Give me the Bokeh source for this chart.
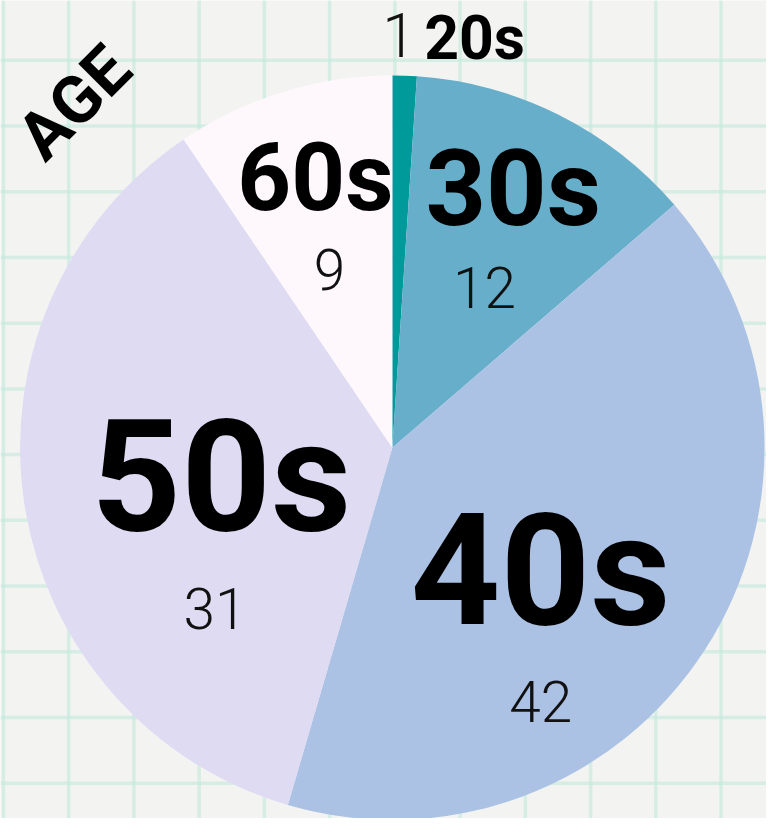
import numpy as np
from bokeh.plotting import figure
from bokeh.models import ColumnDataSource, Range1d
from bokeh.core.properties import value
from bokeh.embed import file_html
from bokeh.resources import INLINE

# ---- data ----
ages = ["20s", "30s", "40s", "50s", "60s"]
counts = [1, 12, 42, 31, 9]                 # printed values
slice_share = [1, 12, 38.8, 34.2, 9]        # slice sizes as drawn in the picture
colors = ["#009a9a", "#67aecb", "#abc2e4", "#dedbf2", "#fef8fd"]
title = "AGE"

# ---- layout (reference pixel coordinates, y downwards) ----
REF_W, REF_H = 782, 834
SC = 766 / REF_W
cx_ref, cy_ref, R = 400, 456, 380
cat_x = [484, 523.5, 551.5, 225.5, 321.5]
cat_base = [62, 232, 640, 545, 217]
cat_size = [62, 108, 160, 160, 96]
val_x = [407, 494, 551.5, 219, 336]
val_base = [59, 315, 737, 643, 297]
val_size = [62, 58, 58, 58, 58]
SHIFT_B, SHIFT_L = 0.37, 0.39   # compensation for where the renderer puts the baseline

FONT_B = "Roboto"
FONT_L = "Roboto Light"

p = figure(width=766, height=818, x_range=Range1d(0, REF_W), y_range=Range1d(0, REF_H),
           output_backend="svg", toolbar_location=None, min_border=0,
           x_axis_location=None, y_axis_location=None)
p.grid.visible = False
p.outline_line_color = None
p.background_fill_color = "#f3f4f2"
p.border_fill_color = "#f3f4f2"

# graph-paper background
vx = 3 + 66.6 * np.arange(0, 12)
hy = 61 + 67 * np.arange(-1, 12)
p.segment(x0=vx, y0=[0] * len(vx), x1=vx, y1=[REF_H] * len(vx),
          line_color="#c6eadd", line_width=3.5, line_alpha=0.65)
p.segment(x0=[0] * len(hy), y0=REF_H - hy, x1=[REF_W] * len(hy), y1=REF_H - hy,
          line_color="#c6eadd", line_width=3.5, line_alpha=0.65)

# pie
share = np.array(slice_share, dtype=float)
cum = np.concatenate([[0], np.cumsum(share)])
tot = share.sum()
start = np.pi / 2 - 2 * np.pi * cum[:-1] / tot
end = np.pi / 2 - 2 * np.pi * cum[1:] / tot
src = ColumnDataSource(dict(age=ages, start=start, end=end, color=colors))
p.wedge(x=cx_ref, y=REF_H - cy_ref, radius=R, start_angle="start", end_angle="end",
        direction="clock", fill_color="color", line_color=None, source=src)

# category labels
lab = ColumnDataSource(dict(x=cat_x,
                            y=[REF_H - (b - SHIFT_B * s) for b, s in zip(cat_base, cat_size)],
                            t=ages, s=[f"{s * SC:.1f}px" for s in cat_size]))
p.text(x="x", y="y", text="t", text_font_size="s", source=lab,
       text_font=value(FONT_B), text_font_style="bold", text_color="#000000",
       text_align="center", text_baseline="alphabetic")

# value labels
vl = ColumnDataSource(dict(x=val_x,
                           y=[REF_H - (b - SHIFT_L * s) for b, s in zip(val_base, val_size)],
                           t=[str(c) for c in counts], s=[f"{s * SC:.1f}px" for s in val_size]))
p.text(x="x", y="y", text="t", text_font_size="s", source=vl,
       text_font=value(FONT_L), text_font_style="normal", text_color="#111111",
       text_align="center", text_baseline="alphabetic")

# rotated title
p.text(x=[75], y=[REF_H - 104], text=[title], angle=np.pi / 4,
       text_font=value(FONT_B), text_font_style="bold", text_font_size=f"{68 * SC:.1f}px",
       text_color="#000000", text_align="center", text_baseline="middle")

open("out.html", "w").write(file_html(p, INLINE))
